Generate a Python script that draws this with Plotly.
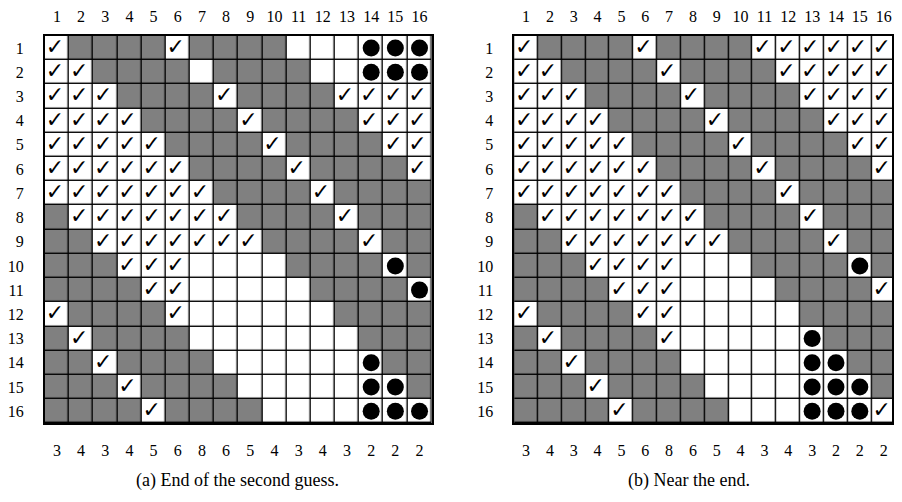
import plotly.graph_objects as go

# ---- data ----
col_labels = [str(i) for i in range(1, 17)]
row_labels = [str(i) for i in range(1, 17)]
col_counts = [3, 4, 3, 4, 5, 6, 8, 6, 5, 4, 3, 4, 3, 2, 2, 2]

# G = grey cell, W = empty white cell, C = check mark, D = black dot
panel_a = [
    "CGGGGCGGGGWWWDDD",
    "CCGGGGWGGGGWWDDD",
    "CCCGGGGCGGGGCCCC",
    "CCCCGGGGCGGGGCCC",
    "CCCCCGGGGCGGGGCC",
    "CCCCCCGGGGCGGGGC",
    "CCCCCCCGGGGCGGGG",
    "GCCCCCCCGGGGCGGG",
    "GGCCCCCCCGGGGCGG",
    "GGGCCCWWWWGGGGDG",
    "GGGGCCWWWWWGGGGD",
    "CGGGGCWWWWWWGGGG",
    "GCGGGGWWWWWWWGGG",
    "GGCGGGGWWWWWWDGG",
    "GGGCGGGGWWWWWDDG",
    "GGGGCGGGGWWWWDDD",
]
panel_b = [
    "CGGGGCGGGGCCCCCC",
    "CCGGGGCGGGGCCCCC",
    "CCCGGGGCGGGGCCCC",
    "CCCCGGGGCGGGGCCC",
    "CCCCCGGGGCGGGGCC",
    "CCCCCCGGGGCGGGGC",
    "CCCCCCCGGGGCGGGG",
    "GCCCCCCCGGGGCGGG",
    "GGCCCCCCCGGGGCGG",
    "GGGCCCCWWWGGGGDG",
    "GGGGCCCWWWWGGGGC",
    "CGGGGCCWWWWWGGGG",
    "GCGGGGCWWWWWDGGG",
    "GGCGGGGWWWWWDDGG",
    "GGGCGGGGWWWWDDDG",
    "GGGGCGGGGWWWDDDC",
]
captions = ["(a) End of the second guess.", "(b) Near the end."]

GREY = "#808080"
FONT = "Liberation Serif"
OFF = 8  # page body margin
W, H = 902 - 2 * OFF, 502 - 2 * OFF

fig = go.Figure()

panels = [panel_a, panel_b]
xdomains = [[(42 - OFF) / W, (431 - OFF) / W], [(514 - OFF) / W, 1.0]]
xranges = [[0.5, 16.5], [0.5, 16.35]]
ydomain = [1 - (423 - OFF) / H, 1 - (34 - OFF) / H]

for k, grid in enumerate(panels):
    xa = "x" if k == 0 else "x2"
    ya = "y" if k == 0 else "y2"
    xs = list(range(1, 17))
    ys = list(range(1, 17))
    z = [[1 if ch == "G" else 0 for ch in row] for row in grid]
    fig.add_trace(go.Heatmap(
        z=z, x=xs, y=ys, xaxis=xa, yaxis=ya,
        colorscale=[[0, "white"], [1, GREY]], zmin=0, zmax=1,
        showscale=False, xgap=1.4, ygap=1.4, hoverinfo="skip",
    ))
    cx, cy, dx, dy = [], [], [], []
    for r, row in enumerate(grid):
        for c, ch in enumerate(row):
            if ch == "C":
                cx.append(c + 1 - 0.08)
                cy.append(r + 1 + 0.02)
            elif ch == "D":
                dx.append(c + 1)
                dy.append(r + 1)
    fig.add_trace(go.Scatter(
        x=cx, y=cy, xaxis=xa, yaxis=ya, mode="text", text=["✓"] * len(cx),
        textfont=dict(family="DejaVu Sans", size=22, color="black"),
        textposition="middle center", hoverinfo="skip", showlegend=False,
        cliponaxis=False,
    ))
    fig.add_trace(go.Scatter(
        x=dx, y=dy, xaxis=xa, yaxis=ya, mode="markers",
        marker=dict(size=17, color="black", line=dict(width=0)),
        hoverinfo="skip", showlegend=False, cliponaxis=False,
    ))
    # bottom axis carries the column counts
    fig.add_trace(go.Scatter(
        x=[1, 16], y=[1, 1], xaxis="x3" if k == 0 else "x4", yaxis=ya,
        mode="markers", marker=dict(opacity=0), hoverinfo="skip", showlegend=False,
    ))

tick_font = dict(family=FONT, size=16, color="black")
common_x = dict(tickvals=list(range(1, 17)), showgrid=False,
                zeroline=False, ticks="outside", tickcolor="rgba(0,0,0,0)",
                tickfont=tick_font, fixedrange=True)
common_y = dict(range=[16.5, 0.5], tickvals=list(range(1, 17)), ticktext=row_labels,
                showgrid=False, zeroline=False, ticks="outside", ticklen=16,
                tickcolor="rgba(0,0,0,0)", tickfont=tick_font, domain=ydomain,
                showline=True, linecolor="black", linewidth=1.5, mirror=True,
                fixedrange=True)

fig.update_layout(
    width=W, height=H, margin=dict(l=0, r=0, t=0, b=0),
    paper_bgcolor="white", plot_bgcolor="black", showlegend=False,
    xaxis=dict(common_x, domain=xdomains[0], range=xranges[0], side="top",
               ticktext=col_labels, ticklen=6, anchor="y", showline=True,
               linecolor="black", linewidth=1.5, mirror=True),
    xaxis2=dict(common_x, domain=xdomains[1], range=xranges[1], side="top",
                ticktext=col_labels, ticklen=6, anchor="y2", showline=True,
                linecolor="black", linewidth=1.5, mirror=True),
    xaxis3=dict(common_x, domain=xdomains[0], range=xranges[0], side="bottom",
                ticktext=[str(v) for v in col_counts], ticklen=13, anchor="y",
                overlaying="x"),
    xaxis4=dict(common_x, domain=xdomains[1], range=xranges[1], side="bottom",
                ticktext=[str(v) for v in col_counts], ticklen=13, anchor="y2",
                overlaying="x2"),
    yaxis=dict(common_y, anchor="x"),
    yaxis2=dict(common_y, anchor="x2"),
)

for k, cap in enumerate(captions):
    fig.add_annotation(
        text=cap, xref="paper", yref="paper",
        x=((236 if k == 0 else 690) - OFF) / W, y=1 - (480 - OFF) / H,
        xanchor="center", yanchor="middle", showarrow=False,
        font=dict(family=FONT, size=18, color="black"),
    )

fig.write_html("out.html")
